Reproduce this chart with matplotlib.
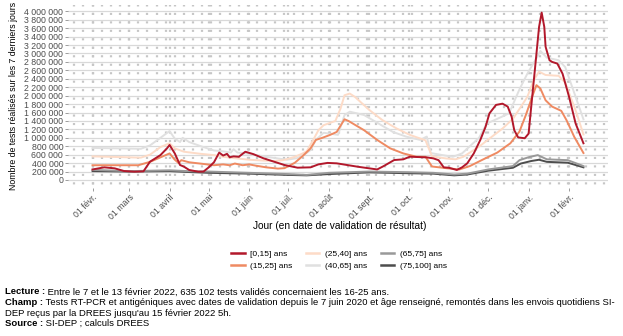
import pandas as pd
import matplotlib
matplotlib.use('Agg')
import matplotlib.pyplot as plt
from matplotlib.lines import Line2D

plt.rcParams['font.family'] = ['Liberation Sans', 'DejaVu Sans']
plt.rcParams['lines.scale_dashes'] = False

# Nombre de tests sur les 7 derniers jours, par classe d'âge
dates_0_15 = ['2021-02-01', '2021-02-10', '2021-02-18', '2021-02-25', '2021-03-05', '2021-03-12',
              '2021-03-17', '2021-03-25', '2021-03-30', '2021-04-01', '2021-04-05', '2021-04-09',
              '2021-04-12', '2021-04-16', '2021-04-23', '2021-04-27', '2021-05-01', '2021-05-05',
              '2021-05-09', '2021-05-12', '2021-05-15', '2021-05-17', '2021-05-20', '2021-05-24',
              '2021-05-29', '2021-06-04', '2021-06-12', '2021-06-20', '2021-06-28', '2021-07-08',
              '2021-07-18', '2021-07-24', '2021-07-31', '2021-08-07', '2021-08-15', '2021-08-23',
              '2021-09-01', '2021-09-07', '2021-09-12', '2021-09-20', '2021-09-27', '2021-10-02',
              '2021-10-15', '2021-10-20', '2021-10-24', '2021-10-28', '2021-11-01', '2021-11-07',
              '2021-11-11', '2021-11-15', '2021-11-20', '2021-11-25', '2021-11-29', '2021-12-02',
              '2021-12-07', '2021-12-12', '2021-12-16', '2021-12-19', '2021-12-21', '2021-12-24',
              '2021-12-29', '2022-01-01', '2022-01-03', '2022-01-06', '2022-01-09', '2022-01-11',
              '2022-01-13', '2022-01-14', '2022-01-17', '2022-01-19', '2022-01-23', '2022-01-27',
              '2022-02-01', '2022-02-06', '2022-02-12']
vals_0_15 = [250000, 300000, 276000, 213000, 197000, 205000,
             434000, 590000, 750000, 830000, 630000, 355000,
             316000, 237000, 197000, 200000, 300000, 420000,
             650000, 580000, 620000, 540000, 560000, 550000,
             670000, 615000, 513000, 434000, 355000, 292000,
             300000, 370000, 405000, 395000, 355000, 315000,
             276000, 250000, 330000, 473000, 490000, 552000,
             536000, 513000, 470000, 300000, 290000, 237000,
             300000, 395000, 630000, 950000, 1260000, 1580000,
             1780000, 1810000, 1740000, 1500000, 1180000, 1010000,
             990000, 1100000, 1740000, 2680000, 3630000, 3970000,
             3630000, 3160000, 2840000, 2800000, 2760000, 2520000,
             1970000, 1340000, 870000]

dates_15_25 = ['2021-02-01', '2021-03-08', '2021-03-17', '2021-03-23', '2021-04-01', '2021-04-05',
               '2021-04-08', '2021-04-10', '2021-04-16', '2021-04-27', '2021-05-05', '2021-05-12',
               '2021-05-17', '2021-05-21', '2021-05-27', '2021-06-01', '2021-06-06', '2021-06-14',
               '2021-06-23', '2021-06-28', '2021-07-06', '2021-07-12', '2021-07-18', '2021-07-22',
               '2021-07-27', '2021-08-02', '2021-08-07', '2021-08-13', '2021-08-16', '2021-08-28',
               '2021-09-07', '2021-09-17', '2021-09-27', '2021-10-07', '2021-10-14', '2021-10-19',
               '2021-10-30', '2021-11-09', '2021-11-17', '2021-11-26', '2021-12-08', '2021-12-18',
               '2021-12-25', '2021-12-30', '2022-01-04', '2022-01-07', '2022-01-10', '2022-01-14',
               '2022-01-19', '2022-01-26', '2022-01-30', '2022-02-05', '2022-02-12']
vals_15_25 = [350000, 350000, 430000, 510000, 630000, 480000,
              400000, 470000, 420000, 380000, 350000, 370000,
              350000, 390000, 350000, 370000, 340000, 300000,
              270000, 280000, 410000, 570000, 750000, 950000,
              1000000, 1070000, 1140000, 1440000, 1400000, 1180000,
              950000, 750000, 630000, 552000, 550000, 320000,
              280000, 250000, 330000, 470000, 650000, 870000,
              1150000, 1550000, 2000000, 2250000, 2170000, 1890000,
              1740000, 1640000, 1420000, 1020000, 640000]

dates_25_40 = ['2021-02-01', '2021-03-10', '2021-03-17', '2021-03-25', '2021-04-01', '2021-04-05',
               '2021-04-12', '2021-04-25', '2021-05-05', '2021-05-12', '2021-05-20', '2021-06-01',
               '2021-06-12', '2021-06-20', '2021-06-27', '2021-07-06', '2021-07-12', '2021-07-15',
               '2021-07-20', '2021-07-24', '2021-07-28', '2021-08-06', '2021-08-10', '2021-08-13',
               '2021-08-17', '2021-08-21', '2021-09-01', '2021-09-11', '2021-09-22', '2021-10-02',
               '2021-10-14', '2021-10-19', '2021-10-30', '2021-11-06', '2021-11-12', '2021-11-24',
               '2021-12-04', '2021-12-12', '2021-12-20', '2021-12-31', '2022-01-05', '2022-01-09',
               '2022-01-14', '2022-01-24', '2022-01-29', '2022-02-06', '2022-02-12']
vals_25_40 = [560000, 530000, 600000, 780000, 870000, 750000,
              670000, 620000, 590000, 550000, 520000, 480000,
              460000, 450000, 470000, 550000, 630000, 680000,
              950000, 1180000, 1300000, 1400000, 1700000, 2010000,
              2050000, 1970000, 1660000, 1420000, 1220000, 1070000,
              940000, 560000, 510000, 490000, 550000, 790000,
              1030000, 1220000, 1450000, 1970000, 2370000, 2570000,
              2490000, 2470000, 2310000, 1650000, 1080000]

dates_40_65 = ['2021-02-01', '2021-03-10', '2021-03-17', '2021-03-25', '2021-04-01', '2021-04-05',
               '2021-04-09', '2021-04-11', '2021-04-16', '2021-04-25', '2021-05-05', '2021-05-12',
               '2021-05-18', '2021-05-20', '2021-05-23', '2021-06-01', '2021-06-14', '2021-06-30',
               '2021-07-08', '2021-07-14', '2021-07-18', '2021-07-22', '2021-07-28', '2021-08-08',
               '2021-08-13', '2021-08-17', '2021-08-28', '2021-09-08', '2021-09-19', '2021-09-29',
               '2021-10-10', '2021-10-15', '2021-10-18', '2021-10-27', '2021-11-04', '2021-11-11',
               '2021-11-24', '2021-11-30', '2021-12-08', '2021-12-17', '2021-12-25', '2021-12-31',
               '2022-01-08', '2022-01-10', '2022-01-15', '2022-01-24', '2022-01-29', '2022-02-04',
               '2022-02-12']
vals_40_65 = [760000, 740000, 820000, 1000000, 1160000, 980000,
              900000, 1000000, 900000, 800000, 700000, 680000,
              650000, 730000, 650000, 620000, 550000, 480000,
              520000, 620000, 710000, 950000, 1120000, 1070000,
              1540000, 1620000, 1540000, 1340000, 1140000, 1030000,
              950000, 1030000, 640000, 590000, 550000, 630000,
              1000000, 1340000, 1450000, 1580000, 2150000, 2520000,
              2940000, 3060000, 2900000, 2840000, 2680000, 2150000,
              1440000]

dates_65_75 = ['2021-02-01', '2021-03-01', '2021-04-01', '2021-04-15', '2021-05-01', '2021-06-01',
               '2021-07-01', '2021-07-15', '2021-08-01', '2021-09-01', '2021-10-01', '2021-10-20',
               '2021-11-05', '2021-11-15', '2021-12-01', '2021-12-20', '2021-12-25', '2022-01-01',
               '2022-01-08', '2022-01-15', '2022-01-31', '2022-02-12']
vals_65_75 = [240000, 210000, 230000, 210000, 200000, 170000,
              140000, 120000, 170000, 200000, 185000, 170000,
              130000, 150000, 250000, 330000, 470000, 540000,
              590000, 490000, 470000, 330000]

dates_75_100 = ['2021-02-01', '2021-03-01', '2021-04-01', '2021-04-15', '2021-05-01', '2021-06-01',
                '2021-07-01', '2021-07-15', '2021-08-01', '2021-09-01', '2021-10-01', '2021-10-20',
                '2021-11-05', '2021-11-15', '2021-12-01', '2021-12-20', '2021-12-26', '2022-01-03',
                '2022-01-09', '2022-01-15', '2022-01-31', '2022-02-12']
vals_75_100 = [210000, 200000, 210000, 190000, 170000, 150000,
               120000, 110000, 140000, 180000, 160000, 150000,
               110000, 130000, 220000, 290000, 390000, 450000,
               480000, 430000, 410000, 300000]

age_labels = ['[0,15] ans', '(15,25] ans', '(25,40] ans', '(40,65] ans', '(65,75] ans', '(75,100] ans']
age_colors = ['#b2182b', '#ef8a62', '#fddbc7', '#e0e0e0', '#999999', '#4d4d4d']
series = [(dates_0_15, vals_0_15), (dates_15_25, vals_15_25), (dates_25_40, vals_25_40),
          (dates_40_65, vals_40_65), (dates_65_75, vals_65_75), (dates_75_100, vals_75_100)]

months_fr = ['janv.', 'févr.', 'mars', 'avril', 'mai', 'juin',
             'juil.', 'août', 'sept.', 'oct.', 'nov.', 'déc.']

W, H = 623, 336
fig = plt.figure(figsize=(W / 100, H / 100), dpi=100)
ax = fig.add_axes([68 / W, 1 - 188 / H, 540 / W, 183 / H])

# Limites (expansion de 5 % façon ggplot)
start = pd.Timestamp('2021-02-01')
end = pd.Timestamp('2022-02-12')
pad = (end - start) * 0.05
ax.set_xlim(start - pad, end + pad)
ax.set_ylim(-190000, 4150000)

# Grille horizontale
yticks = list(range(0, 4000001, 200000))
for y in yticks:
    ax.axhline(y, color='#d9d9d9', lw=0.9, zorder=0)

# Grille verticale pointillée (semaines + mois)
month_ticks = pd.date_range('2021-02-01', '2022-02-01', freq='MS')
week_lines = pd.date_range('2021-01-11', '2022-03-07', freq='7D')
for d in list(week_lines) + list(month_ticks):
    ax.axvline(d, color='#c6c6c6', lw=1.6, linestyle=(3.5, (1.5, 4.6)), zorder=0)

# Courbes
for (d, v), col in reversed(list(zip(series, age_colors))):
    ax.plot(pd.to_datetime(d), v, color=col, lw=1.4, solid_joinstyle='round', zorder=3)

for s in ax.spines.values():
    s.set_visible(False)

ax.set_yticks(yticks)
ax.set_yticklabels([f'{y:,}'.replace(',', ' ') for y in yticks])
ax.set_xticks(month_ticks)
ax.set_xticklabels([f'01 {months_fr[m.month - 1]}' for m in month_ticks],
                   rotation=45, ha='right', rotation_mode='anchor')
ax.tick_params(axis='both', length=2, width=0.6, color='#8c8c8c',
               labelsize=6.3, labelcolor='#4d4d4d', pad=1.5)

fig.text(14 / W, 1 - 96 / H, 'Nombre de tests réalisés sur les 7 derniers jours',
         rotation=90, ha='center', va='center', fontsize=6.3)
fig.text(340 / W, 1 - 226 / H, 'Jour (en date de validation de résultat)',
         ha='center', va='center', fontsize=7.3)

handles = [Line2D([], [], color=c, lw=1.8) for c in age_colors]
fig.legend(handles, age_labels, ncol=3, loc='center', bbox_to_anchor=(339 / W, 1 - 260 / H),
           frameon=False, fontsize=6.0, handlelength=1.6, handletextpad=0.7,
           columnspacing=1.6, labelspacing=0.6)

# Notes
notes = [('Lecture :', ' Entre le 7 et le 13 février 2022, 635 102 tests validés concernaient les 16-25 ans.', 292),
         ('Champ :', ' Tests RT-PCR et antigéniques avec dates de validation depuis le 7 juin 2020 et âge renseigné, remontés dans les envois quotidiens SI-', 302.5),
         ('', 'DEP reçus par la DREES jusqu\'au 15 février 2022 5h.', 313),
         ('Source :', ' SI-DEP ; calculs DREES', 323.5)]
fig.canvas.draw()
renderer = fig.canvas.get_renderer()
for bold, rest, ypx in notes:
    x0 = 5 / W
    if bold:
        t = fig.text(x0, 1 - ypx / H, bold, fontsize=6.8, fontweight='bold', va='center')
        bb = t.get_window_extent(renderer)
        x0 = bb.x1 / W
    fig.text(x0, 1 - ypx / H, rest, fontsize=6.8, va='center')

fig.savefig('out.png', dpi=100)
